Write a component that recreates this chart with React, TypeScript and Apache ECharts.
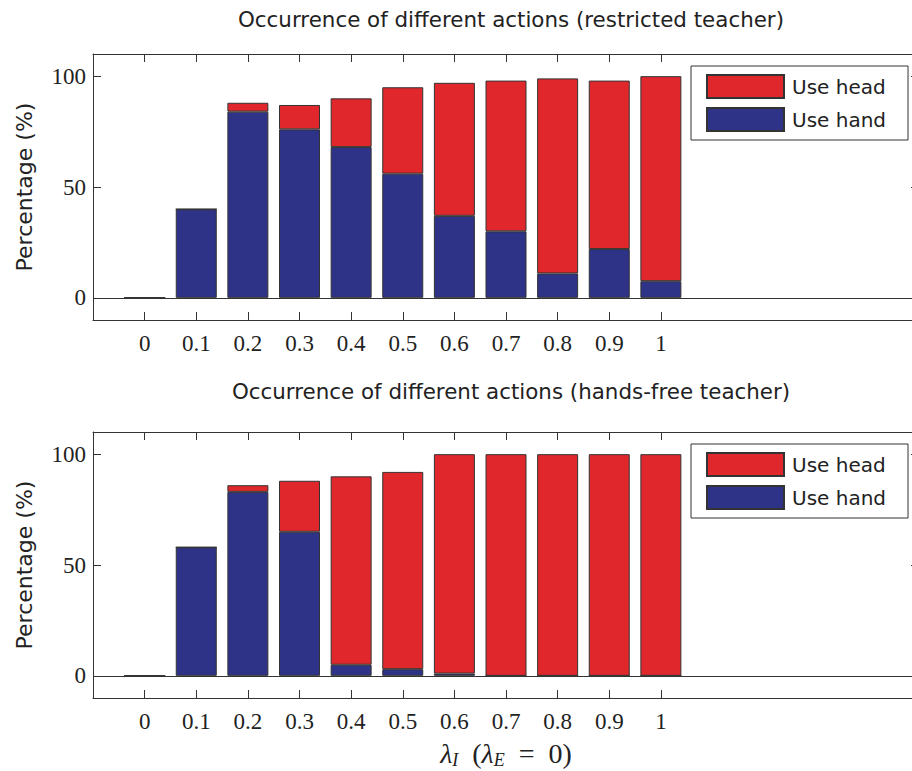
import React, { useEffect, useRef } from "react";
import * as echarts from "echarts";

// axis categories span -0.1 .. 1.5 ; bars only at 0 .. 1
const axisCategories = ["-0.1", "0", "0.1", "0.2", "0.3", "0.4", "0.5", "0.6", "0.7", "0.8", "0.9", "1", "1.1", "1.2", "1.3", "1.4", "1.5"];
const xValues = ["0", "0.1", "0.2", "0.3", "0.4", "0.5", "0.6", "0.7", "0.8", "0.9", "1"];
const yTicks = [0, 50, 100];

// restricted teacher
const restrictedHand = [0, 40, 84, 76, 68, 56, 37, 30, 11, 22, 7.5];
const restrictedHead = [0, 0, 4, 11, 22, 39, 60, 68, 88, 76, 92.5];
// hands-free teacher
const freeHand = [0, 58, 83, 65, 5, 3, 1, 0, 0, 0, 0];
const freeHead = [0, 0, 3, 23, 85, 89, 99, 100, 100, 100, 100];

const titles = [
  "Occurrence of different actions (restricted teacher)",
  "Occurrence of different actions (hands-free teacher)",
];

const RED = "#E0282C";
const BLUE = "#2E3388";
const LINE = "#333333";
const SANS = "DejaVu Sans";
const SERIF = "Liberation Serif";

export default function App() {
  const ref = useRef<HTMLDivElement>(null);
  useEffect(() => {
    document.body.style.margin = "0";
    if (!ref.current) return;
    const chart = echarts.init(ref.current, null, { renderer: "svg" });

    const grids = [
      { left: 93, top: 54, width: 826, height: 266, outerBoundsMode: "none", containLabel: false },
      { left: 93, top: 432, width: 826, height: 266, outerBoundsMode: "none", containLabel: false },
    ];
    const showTick = (idx: number) => xValues.indexOf(axisCategories[idx]) >= 0;

    const xAxes: any[] = [];
    const yAxes: any[] = [];
    grids.forEach((_, gi) => {
      xAxes.push({
        type: "category",
        gridIndex: gi,
        position: "bottom",
        data: axisCategories,
        boundaryGap: false,
        axisLine: { show: true, onZero: false, lineStyle: { color: LINE, width: 1 } },
        axisTick: { show: true, inside: true, length: 8, interval: (i: number) => showTick(i), lineStyle: { color: LINE } },
        axisLabel: {
          show: true,
          interval: (i: number) => showTick(i),
          margin: 12,
          fontFamily: SERIF,
          fontSize: 23,
          color: "#222",
        },
        splitLine: { show: false },
        ...(gi === 1
          ? {
              name: "{m|λ}{s|I}{n|  (}{m|λ}{s|E}{n|  =  0)}",
              nameLocation: "middle",
              nameGap: 39,
              nameTextStyle: {
                rich: {
                  m: { fontFamily: SERIF, fontStyle: "italic", fontSize: 28, color: "#222", lineHeight: 32, verticalAlign: "middle" },
                  s: { fontFamily: SERIF, fontStyle: "italic", fontSize: 18, color: "#222", lineHeight: 20, verticalAlign: "bottom" },
                  n: { fontFamily: SERIF, fontSize: 28, color: "#222", lineHeight: 32, verticalAlign: "middle" },
                },
              },
            }
          : {}),
      });
      xAxes.push({
        type: "category",
        gridIndex: gi,
        position: "top",
        data: axisCategories,
        boundaryGap: false,
        axisLine: { show: true, onZero: false, lineStyle: { color: LINE, width: 1 } },
        axisTick: { show: true, inside: true, length: 8, interval: (i: number) => showTick(i), lineStyle: { color: LINE } },
        axisLabel: { show: false },
        splitLine: { show: false },
      });
      yAxes.push({
        type: "value",
        gridIndex: gi,
        position: "left",
        min: -10,
        max: 110,
        name: "Percentage (%)",
        nameLocation: "middle",
        nameGap: 58,
        nameTextStyle: { fontFamily: SANS, fontSize: 22, color: "#222" },
        axisLine: { show: true, onZero: false, lineStyle: { color: LINE, width: 1 } },
        axisTick: { show: true, inside: true, length: 8, customValues: yTicks, lineStyle: { color: LINE } },
        axisLabel: { show: true, customValues: yTicks, margin: 7, fontFamily: SERIF, fontSize: 23, color: "#222" },
        splitLine: { show: false },
      });
      yAxes.push({
        type: "value",
        gridIndex: gi,
        position: "right",
        min: -10,
        max: 110,
        axisLine: { show: true, onZero: false, lineStyle: { color: LINE, width: 1 } },
        axisTick: { show: true, inside: true, length: 8, customValues: yTicks, lineStyle: { color: LINE } },
        axisLabel: { show: false },
        splitLine: { show: false },
      });
    });

    const pairs = [
      [restrictedHand, restrictedHead],
      [freeHand, freeHead],
    ];
    const series: any[] = [];
    pairs.forEach(([hand, head], gi) => {
      series.push({
        name: "Use hand",
        type: "bar",
        xAxisIndex: gi * 2,
        yAxisIndex: gi * 2,
        stack: "s" + gi,
        barWidth: 41,
        itemStyle: { color: BLUE, borderColor: LINE, borderWidth: 1 },
        data: xValues.map((x, i) => [x, hand[i]]),
        markLine: {
          silent: true,
          symbol: "none",
          label: { show: false },
          lineStyle: { color: LINE, width: 1, type: "solid" },
          data: [{ yAxis: 0 }],
        },
      });
      series.push({
        name: "Use head",
        type: "bar",
        xAxisIndex: gi * 2,
        yAxisIndex: gi * 2,
        stack: "s" + gi,
        barWidth: 41,
        itemStyle: { color: RED, borderColor: LINE, borderWidth: 1 },
        data: xValues.map((x, i) => [x, head[i]]),
      });
    });

    const legendBase = {
      data: ["Use head", "Use hand"],
      orient: "vertical",
      left: 691,
      itemWidth: 77,
      itemHeight: 23,
      itemGap: 8,
      padding: [8, 22, 8, 15],
      borderColor: LINE,
      borderWidth: 1,
      backgroundColor: "#fff",
      icon: "rect",
      textStyle: { fontFamily: SANS, fontSize: 20, color: "#222", padding: [0, 0, 0, 3] },
      selectedMode: false,
    };

    const titleStyle = { fontFamily: SANS, fontSize: 21.4, fontWeight: "normal", color: "#222" };
    chart.setOption({
      animation: false,
      backgroundColor: "#fff",
      title: [
        { text: titles[0], left: 506, top: 4, textAlign: "center", textStyle: titleStyle },
        { text: titles[1], left: 506, top: 376, textAlign: "center", textStyle: titleStyle },
      ],
      legend: [
        { ...legendBase, top: 66 },
        { ...legendBase, top: 444 },
      ],
      grid: grids,
      xAxis: xAxes,
      yAxis: yAxes,
      series,
    });
    return () => chart.dispose();
  }, []);
  return <div ref={ref} style={{ width: 912, height: 771 }} />;
}
